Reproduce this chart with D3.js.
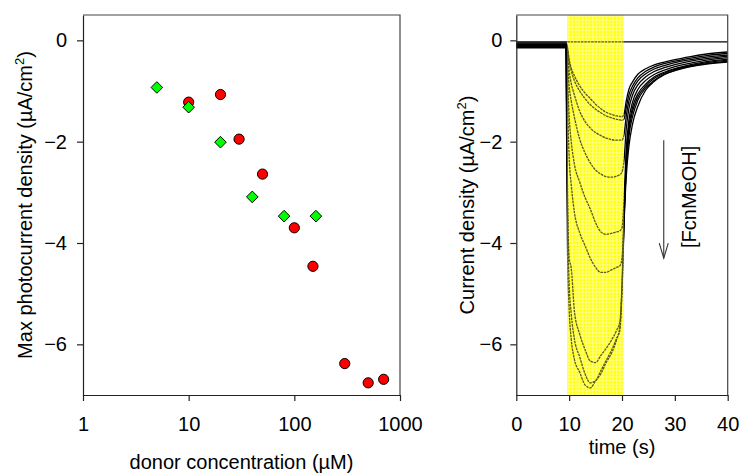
<!DOCTYPE html>
<html>
<head>
<meta charset="utf-8">
<script src="https://cdn.jsdelivr.net/npm/d3@7"></script>
<style>
  html, body { margin: 0; padding: 0; background: #fff; }
  svg { display: block; font-family: "Liberation Sans", Arial, sans-serif; }
</style>
</head>
<body>
<svg id="chart" width="741" height="473"></svg>
<script>
// ---- Left panel: peak photocurrent vs donor concentration ----
const redConc   = [10, 20, 30, 50, 100, 150, 300, 500, 700];
const redPeak   = [-1.22, -1.07, -1.95, -2.64, -3.70, -4.46, -6.38, -6.76, -6.69];
const greenConc = [5, 10, 20, 40, 80, 160];
const greenPeak = [-0.93, -1.32, -2.01, -3.09, -3.47, -3.47];
const concTicks = [1, 10, 100, 1000];
const densityTicks = [0, -2, -4, -6];

// ---- Right panel: photocurrent transients (time in s, current in µA/cm²) ----
const time = [0, 9.4, 9.55, 9.7, 10.0, 10.4, 11.0, 12, 13, 14, 15, 16, 17, 18, 19, 19.6, 20.0,
              20.4, 20.8, 21.3, 22, 23, 24.5, 26, 28, 30, 33, 36, 40];
const traceCtrl = [-0.03, -0.03, -0.03, -0.03, -0.03, -0.03, -0.03, -0.03, -0.03, -0.03, -0.03, -0.03, -0.03, -0.03, -0.03, -0.03, -0.03,
                   -0.03, -0.03, -0.03, -0.03, -0.03, -0.03, -0.03, -0.03, -0.03, -0.03, -0.03, -0.03];
const traceA = [-0.05, -0.05, -0.08, -0.15, -0.38, -0.55, -0.70, -0.90, -1.04, -1.15, -1.26, -1.35, -1.42, -1.46, -1.49, -1.50, -1.51,
                -1.45, -1.20, -0.97, -0.82, -0.67, -0.56, -0.49, -0.43, -0.38, -0.32, -0.27, -0.23];
const traceB = [-0.07, -0.07, -0.10, -0.18, -0.42, -0.60, -0.80, -1.00, -1.15, -1.27, -1.36, -1.43, -1.49, -1.53, -1.56, -1.57, -1.58,
                -1.55, -1.33, -1.08, -0.90, -0.74, -0.61, -0.53, -0.46, -0.41, -0.35, -0.30, -0.26];
const traceC = [-0.08, -0.08, -0.12, -0.25, -0.60, -0.85, -1.08, -1.40, -1.60, -1.73, -1.82, -1.88, -1.93, -1.96, -1.97, -1.97, -1.97,
                -1.85, -1.50, -1.20, -0.98, -0.80, -0.66, -0.57, -0.50, -0.44, -0.38, -0.33, -0.29];
const traceD = [-0.09, -0.09, -0.15, -0.40, -0.90, -1.20, -1.52, -1.95, -2.22, -2.42, -2.56, -2.64, -2.69, -2.70, -2.68, -2.65, -2.60,
                -2.35, -1.75, -1.35, -1.08, -0.88, -0.72, -0.62, -0.54, -0.48, -0.41, -0.36, -0.31];
const traceE = [-0.10, -0.10, -0.25, -0.70, -1.50, -2.00, -2.45, -2.80, -3.10, -3.33, -3.60, -3.78, -3.83, -3.81, -3.78, -3.76, -3.70,
                -3.10, -2.15, -1.58, -1.22, -0.97, -0.79, -0.68, -0.59, -0.52, -0.45, -0.39, -0.34];
const traceF = [-0.12, -0.12, -0.50, -1.20, -2.30, -2.85, -3.40, -3.80, -4.05, -4.30, -4.48, -4.58, -4.58, -4.53, -4.48, -4.45, -4.30,
                -3.40, -2.35, -1.72, -1.32, -1.06, -0.86, -0.73, -0.63, -0.56, -0.48, -0.42, -0.37];
const traceG = [-0.13, -0.13, -1.50, -3.00, -4.30, -4.50, -5.35, -5.80, -6.10, -6.33, -6.36, -6.22, -6.08, -5.92, -5.72, -5.55, -4.80,
                -3.45, -2.45, -1.80, -1.40, -1.12, -0.90, -0.76, -0.65, -0.57, -0.50, -0.44, -0.39];
const traceH = [-0.14, -0.14, -1.80, -3.40, -4.80, -5.40, -5.90, -6.25, -6.58, -6.76, -6.72, -6.52, -6.32, -6.12, -5.88, -5.72, -4.90,
                -3.50, -2.55, -1.90, -1.50, -1.18, -0.94, -0.80, -0.67, -0.59, -0.51, -0.46, -0.41];
const traceI = [-0.15, -0.15, -2.50, -4.20, -5.30, -5.90, -6.30, -6.55, -6.80, -6.86, -6.72, -6.58, -6.36, -6.18, -5.90, -5.65, -4.95,
                -3.60, -2.70, -2.10, -1.65, -1.30, -0.98, -0.82, -0.68, -0.60, -0.52, -0.47, -0.43];
const traces = [traceCtrl, traceA, traceB, traceC, traceD, traceE, traceF, traceG, traceH, traceI];
const lightWindow = [9.65, 20.35];
const timeTicks = [0, 10, 20, 30, 40];

const svg = d3.select("#chart");
const FONT = 20;
const frameColor = "#444";

const yDomain = [-7, 0.5];
const plotTop = 15, plotBottom = 395;

// ---------- helpers ----------
function styleAxis(g) {
  g.selectAll("text").attr("font-size", FONT).attr("fill", "#000")
    .attr("font-family", '"Liberation Sans", Arial, sans-serif');
  g.selectAll("line").attr("stroke", "#222").attr("stroke-width", 1.2);
  g.select(".domain").attr("stroke", "#222").attr("stroke-width", 1.2);
}

// ================= Left panel =================
const xL = d3.scaleLog().domain([1, 1000]).range([83, 400]);
const yL = d3.scaleLinear().domain(yDomain).range([plotBottom, plotTop]);

// frame (top and right)
svg.append("path")
  .attr("d", `M${xL.range()[0]},${plotTop}H${xL.range()[1]}V${plotBottom}`)
  .attr("fill", "none").attr("stroke", frameColor).attr("stroke-width", 1.2);

const gxL = svg.append("g").attr("transform", `translate(0,${plotBottom})`)
  .call(d3.axisBottom(xL).tickValues(concTicks).tickFormat(d3.format("d"))
    .tickSize(6).tickSizeOuter(0).tickPadding(0));
styleAxis(gxL);
gxL.selectAll("text").attr("y", 36).attr("dy", 0);

const gyL = svg.append("g").attr("transform", `translate(${xL.range()[0]},0)`)
  .call(d3.axisLeft(yL).tickValues(densityTicks).tickFormat(d3.format("d"))
    .tickSize(6).tickSizeOuter(0).tickPadding(10));
styleAxis(gyL);

// red circles
svg.append("g").selectAll("circle")
  .data(redConc.map((c, i) => [c, redPeak[i]]))
  .join("circle")
  .attr("cx", d => xL(d[0])).attr("cy", d => yL(d[1])).attr("r", 5.1)
  .attr("fill", "#ff0000").attr("stroke", "#000").attr("stroke-width", 1);

// green diamonds (rotated squares)
const dr = 5.8;
svg.append("g").selectAll("path")
  .data(greenConc.map((c, i) => [c, greenPeak[i]]))
  .join("path")
  .attr("d", `M0,${-dr}L${dr},0L0,${dr}L${-dr},0Z`)
  .attr("transform", d => `translate(${xL(d[0])},${yL(d[1])})`)
  .attr("fill", "#00ff00").attr("stroke", "#000").attr("stroke-width", 1);

// axis titles
svg.append("text")
  .attr("x", (xL.range()[0] + xL.range()[1]) / 2).attr("y", 469)
  .attr("text-anchor", "middle").attr("font-size", FONT)
  .text("donor concentration (\u00b5M)");

const yTitleL = svg.append("text")
  .attr("transform", `translate(31.5,${(plotTop + plotBottom) / 2}) rotate(-90)`)
  .attr("text-anchor", "middle").attr("font-size", FONT);
yTitleL.append("tspan").text("Max photocurrent density (\u00b5A/cm");
yTitleL.append("tspan").attr("font-size", 13).attr("dy", -8).text("2");
yTitleL.append("tspan").attr("dy", 8).text(")");

// ================= Right panel =================
const xR = d3.scaleLinear().domain([0, 40]).range([516.3, 727.7]);
const yR = d3.scaleLinear().domain(yDomain).range([plotBottom, plotTop]);

const lx0 = xR(lightWindow[0]), lx1 = xR(lightWindow[1]);

const defs = svg.append("defs");
const cell = 3.4;
const pat = defs.append("pattern").attr("id", "lightGrid")
  .attr("patternUnits", "userSpaceOnUse")
  .attr("width", cell).attr("height", cell)
  .attr("x", lx0).attr("y", plotTop);
pat.append("rect").attr("width", cell).attr("height", cell).attr("fill", "#ffff00");
pat.append("path")
  .attr("d", `M0,${cell / 2}H${cell}M${cell / 2},0V${cell}`)
  .attr("stroke", "#ffffb0").attr("stroke-width", 0.9).attr("fill", "none");

// clip regions: inside and outside the illumination window
defs.append("clipPath").attr("id", "inWindow")
  .append("rect").attr("x", lx0).attr("y", 0).attr("width", lx1 - lx0).attr("height", 473);
const outClip = defs.append("clipPath").attr("id", "outWindow");
outClip.append("rect").attr("x", 0).attr("y", 0).attr("width", lx0).attr("height", 473);
outClip.append("rect").attr("x", lx1).attr("y", 0).attr("width", 741 - lx1).attr("height", 473);

// illumination window
svg.append("rect").attr("x", lx0).attr("y", plotTop)
  .attr("width", lx1 - lx0).attr("height", plotBottom - plotTop).attr("fill", "url(#lightGrid)");

// transients
const line = d3.line()
  .x((d, i) => xR(time[i]))
  .y(d => yR(d))
  .curve(d3.curveMonotoneX);

svg.append("g").attr("clip-path", "url(#outWindow)")
  .selectAll("path")
  .data(traces)
  .join("path")
  .attr("d", line)
  .attr("fill", "none").attr("stroke", "#000").attr("stroke-width", 1.3);

svg.append("g").attr("clip-path", "url(#inWindow)")
  .selectAll("path")
  .data(traces)
  .join("path")
  .attr("d", line)
  .attr("fill", "none").attr("stroke", "#5a5a10").attr("stroke-width", 1.3)
  .attr("stroke-dasharray", "2.6,0.8");

// frame (top and right)
svg.append("path")
  .attr("d", `M${xR.range()[0]},${plotTop}H${xR.range()[1]}V${plotBottom}`)
  .attr("fill", "none").attr("stroke", frameColor).attr("stroke-width", 1.2);

const gxR = svg.append("g").attr("transform", `translate(0,${plotBottom})`)
  .call(d3.axisBottom(xR).tickValues(timeTicks).tickFormat(d3.format("d"))
    .tickSize(6).tickSizeOuter(0).tickPadding(0));
styleAxis(gxR);
gxR.selectAll("text").attr("y", 36).attr("dy", 0);

const gyR = svg.append("g").attr("transform", `translate(${xR.range()[0]},0)`)
  .call(d3.axisLeft(yR).tickValues(densityTicks).tickFormat(d3.format("d"))
    .tickSize(6).tickSizeOuter(0).tickPadding(8));
styleAxis(gyR);

svg.append("text")
  .attr("x", (xR.range()[0] + xR.range()[1]) / 2).attr("y", 454)
  .attr("text-anchor", "middle").attr("font-size", FONT)
  .text("time (s)");

const yTitleR = svg.append("text")
  .attr("transform", `translate(473.5,${(plotTop + plotBottom) / 2}) rotate(-90)`)
  .attr("text-anchor", "middle").attr("font-size", FONT);
yTitleR.append("tspan").text("Current density (\u00b5A/cm");
yTitleR.append("tspan").attr("font-size", 13).attr("dy", -8).text("2");
yTitleR.append("tspan").attr("dy", 8).text(")");

// concentration arrow annotation
const ax = xR(27.9), ay0 = yR(-1.97), ay1 = yR(-4.30);
svg.append("line").attr("x1", ax).attr("x2", ax).attr("y1", ay0).attr("y2", ay1)
  .attr("stroke", "#333").attr("stroke-width", 1.1);
svg.append("path")
  .attr("d", `M${ax - 4.5},${ay1 - 15}L${ax},${ay1}L${ax + 4.5},${ay1 - 15}`)
  .attr("fill", "none").attr("stroke", "#333").attr("stroke-width", 1.1);
svg.append("text")
  .attr("transform", `translate(${xR(34.0)},${yR(-3.09)}) rotate(-90)`)
  .attr("text-anchor", "middle").attr("font-size", FONT)
  .text("[FcnMeOH]");
</script>
</body>
</html>
